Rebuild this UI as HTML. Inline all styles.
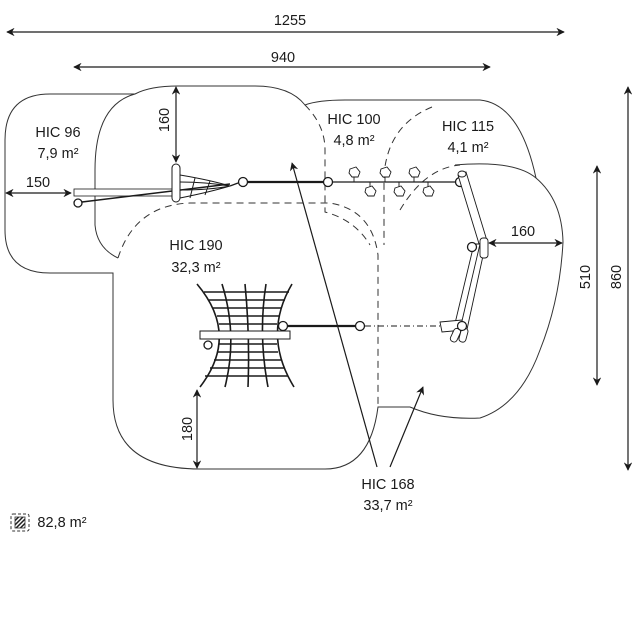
<!DOCTYPE html>
<html><head><meta charset="utf-8"><style>
html,body{margin:0;padding:0;background:#fff}
svg{display:block}
text{font-family:"Liberation Sans",sans-serif;fill:#1a1a1a}
</style></head><body>
<svg width="640" height="640" viewBox="0 0 640 640" xmlns="http://www.w3.org/2000/svg">
<defs>
<marker id="a" viewBox="0 0 10 10" refX="9" refY="5" markerWidth="7" markerHeight="7" orient="auto-start-reverse"><path d="M0,0 L10,5 L0,10 L3,5 Z" fill="#1a1a1a"/></marker>
<pattern id="h" width="3" height="3" patternUnits="userSpaceOnUse" patternTransform="rotate(45)"><rect width="1.5" height="3" fill="#222"/></pattern>
</defs>
<g fill="none" stroke="#333" stroke-width="1">
<!-- outer outline -->
<path d="M5,140 Q5,94 50,94 L135,94 Q150,86 178,86 L255,86 Q290,86 305,105 Q318,100 345,100 L480,100 Q520,104 536,178 Q562,200 563,242 Q560,300 540,350 Q520,405 480,418 Q440,420 410,407 L378,407 Q370,469 325,469 L200,469 Q113,469 113,400 L113,273 L50,273 Q5,273 5,230 Z"/>
<!-- middle shape left arc -->
<path d="M135,94 Q95,105 95,170 L95,225 Q97,248 118,258"/>
<!-- right shape top arc -->
<path d="M455,165 Q515,160 536,178"/>
</g>
<g fill="none" stroke="#333" stroke-width="1" stroke-dasharray="7,5">
<path d="M118,258 Q135,205 190,203 L330,203 Q372,210 378,255 L378,407"/>
<path d="M305,105 Q325,125 325,150 L325,212 Q355,220 370,245"/>
<path d="M432,107 Q388,125 384,175 L384,245"/>
<path d="M400,210 Q425,168 460,165"/>
</g>
<!-- dimension lines -->
<g stroke="#1a1a1a" stroke-width="1.2" fill="none">
<line x1="7" y1="32" x2="564" y2="32" marker-start="url(#a)" marker-end="url(#a)"/>
<line x1="74" y1="67" x2="490" y2="67" marker-start="url(#a)" marker-end="url(#a)"/>
<line x1="628" y1="87" x2="628" y2="470" marker-start="url(#a)" marker-end="url(#a)"/>
<line x1="597" y1="166" x2="597" y2="385" marker-start="url(#a)" marker-end="url(#a)"/>
<line x1="176" y1="87" x2="176" y2="162" marker-start="url(#a)" marker-end="url(#a)"/>
<line x1="6" y1="193" x2="71" y2="193" marker-start="url(#a)" marker-end="url(#a)"/>
<line x1="489" y1="243" x2="562" y2="243" marker-start="url(#a)" marker-end="url(#a)"/>
<line x1="197" y1="390" x2="197" y2="468" marker-start="url(#a)" marker-end="url(#a)"/>
<line x1="377" y1="467" x2="292" y2="163" marker-end="url(#a)"/>
<line x1="390" y1="467" x2="423" y2="387" marker-end="url(#a)"/>
</g>
<!-- equipment upper -->
<g stroke="#1a1a1a" fill="none">
<rect x="74" y="189" width="102" height="7" fill="#fff" stroke-width="0.8"/>
<line x1="82" y1="202" x2="230" y2="184" stroke-width="1.5"/>
<circle cx="78" cy="203" r="4" fill="#fff" stroke-width="1.3"/>
<path d="M180,175 Q210,180 230,186 M180,182 Q205,182 230,186 M180,190 Q210,190 230,186 M180,198 Q210,192 230,186 M195,178 L190,198 M210,181 L205,195" stroke-width="1"/>
<rect x="172" y="164" width="8" height="38" rx="4" fill="#fff" stroke-width="1"/>
<line x1="230" y1="186" x2="238" y2="183" stroke-width="1.3"/>
<circle cx="243" cy="182" r="4.5" fill="#fff" stroke-width="1.3"/>
<line x1="248" y1="182" x2="323" y2="182" stroke-width="2.2"/>
<circle cx="328" cy="182" r="4.5" fill="#fff" stroke-width="1.3"/>
<line x1="333" y1="182" x2="455" y2="182" stroke-width="1.2"/>
<circle cx="460" cy="182" r="4.5" fill="#fff" stroke-width="1.3"/>
<g stroke-width="0.9" fill="#fff">
<line x1="354" y1="175" x2="354" y2="182"/><polygon points="350,169 356,167 360,172 358,177 352,177 349,173"/>
<line x1="385" y1="175" x2="385" y2="182"/><polygon points="381,169 387,167 391,172 389,177 383,177 380,173"/>
<line x1="414" y1="175" x2="414" y2="182"/><polygon points="410,169 416,167 420,172 418,177 412,177 409,173"/>
<line x1="370" y1="182" x2="370" y2="188"/><polygon points="366,188 372,186 376,191 374,196 368,196 365,192"/>
<line x1="399" y1="182" x2="399" y2="188"/><polygon points="395,188 401,186 405,191 403,196 397,196 394,192"/>
<line x1="428" y1="182" x2="428" y2="188"/><polygon points="424,188 430,186 434,191 432,196 426,196 423,192"/>
</g>
<!-- diagonal posts -->
<g stroke-width="0.9" fill="#fff">
<polygon points="458,175 466,172 488,244 480,247"/>
<polygon points="478,244 486,242 466,334 458,337"/>
<polygon points="474,244 480,244 458,338 452,336"/>
<rect x="480" y="238" width="8" height="20" rx="3"/>
<ellipse cx="462" cy="174" rx="4" ry="3"/>
<polygon points="440,322 462,320 464,330 442,332"/>
<rect x="452" y="328" width="7" height="14" rx="3" transform="rotate(25 455 335)"/>
<rect x="460" y="328" width="7" height="14" rx="3" transform="rotate(15 463 335)"/>
</g>
<circle cx="472" cy="247" r="4.5" fill="#fff" stroke-width="1.3"/>
<circle cx="462" cy="326" r="4.5" fill="#fff" stroke-width="1.2"/>
<!-- lower rope -->
<line x1="288" y1="326" x2="355" y2="326" stroke-width="2.2"/>
<circle cx="360" cy="326" r="4.5" fill="#fff" stroke-width="1.3"/>
<line x1="365" y1="326" x2="440" y2="326" stroke-width="1" stroke-dasharray="6,3,1,3"/>
<!-- net -->
<g stroke-width="1.6">
<path d="M197,284 Q240,335 200,387"/>
<path d="M222,284 Q238,335 225,387"/>
<path d="M245,284 Q250,335 248,387"/>
<path d="M266,284 Q258,335 268,387"/>
<path d="M292,284 Q262,335 294,387"/>
<path d="M204,292 L289,292 M209,300 L285,300 M213,308 L281,308 M217,316 L279,316 M219,324 L277,324 M219,344 L277,344 M217,352 L278,352 M214,360 L281,360 M210,368 L284,368 M205,376 L288,376"/>
</g>
<rect x="200" y="331" width="90" height="8" fill="#fff" stroke-width="1"/>
<circle cx="283" cy="326" r="4.5" fill="#fff" stroke-width="1.3"/>
<circle cx="208" cy="345" r="4" fill="#fff" stroke-width="1.3"/>
</g>
<!-- texts -->
<g font-size="14.5" text-anchor="middle">
<text x="290" y="25">1255</text>
<text x="283" y="62">940</text>
<text x="58" y="137">HIC 96</text>
<text x="58" y="158">7,9 m²</text>
<text x="354" y="124">HIC 100</text>
<text x="354" y="145">4,8 m²</text>
<text x="468" y="131">HIC 115</text>
<text x="468" y="152">4,1 m²</text>
<text x="196" y="250">HIC 190</text>
<text x="196" y="272">32,3 m²</text>
<text x="388" y="489">HIC 168</text>
<text x="388" y="510">33,7 m²</text>
<text x="38" y="187">150</text>
<text x="523" y="236">160</text>
<text transform="translate(169,120) rotate(-90)">160</text>
<text transform="translate(192,429) rotate(-90)">180</text>
<text transform="translate(590,277) rotate(-90)">510</text>
<text transform="translate(621,277) rotate(-90)">860</text>
<text x="62" y="527">82,8 m²</text>
</g>
<rect x="11" y="514" width="18" height="17" rx="2" fill="none" stroke="#333" stroke-dasharray="3,2"/>
<rect x="15" y="517" width="10" height="11" fill="url(#h)" stroke="#333" stroke-width="0.8"/>
</svg>
</body></html>
